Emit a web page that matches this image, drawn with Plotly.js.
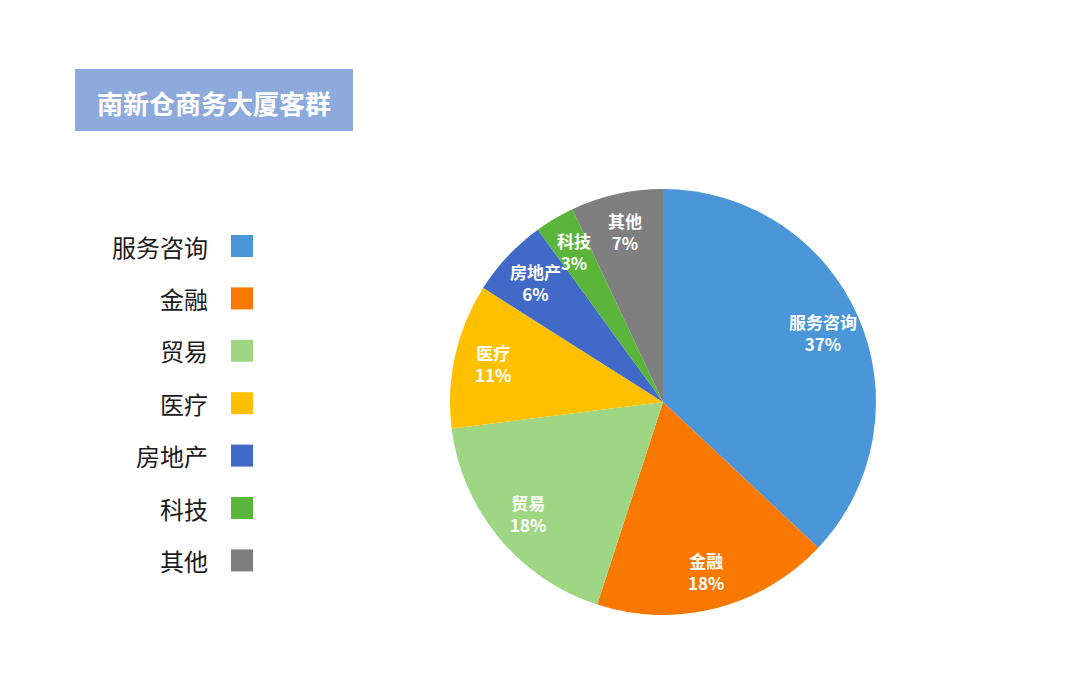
<!DOCTYPE html>
<html>
<head>
<meta charset="utf-8">
<script src="https://cdn.plot.ly/plotly-3.0.1.min.js"></script>
<style>
  html, body { margin: 0; padding: 0; background: #fff; }
  #chart { width: 1080px; height: 684px; }
</style>
</head>
<body>
<div id="chart"></div>
<script>
var categories = ['服务咨询', '金融', '贸易', '医疗', '房地产', '科技', '其他'];
var shares = [37, 18, 18, 11, 6, 3, 7];
var sliceColors = ['#4A96D9', '#F87800', '#9ED684', '#FFC000', '#4169C8', '#5BB53B', '#7F7F7F'];
var chartTitle = '南新仓商务大厦客群';

var W = 1080, H = 684;
var cjk = '"Noto Sans CJK SC", "Microsoft YaHei", sans-serif';

// px -> paper helpers
function px(x) { return x / W; }
function py(y) { return 1 - y / H; }

// pie box (px)
var pieL = 450, pieR = 876, pieT = 189, pieB = 615;
var cx = (pieL + pieR) / 2, cy0 = (pieT + pieB) / 2, rad = (pieR - pieL) / 2;

var data = [{
    type: 'pie',
    labels: categories,
    values: shares,
    sort: false,
    direction: 'clockwise',
    rotation: 0,
    marker: { colors: sliceColors, line: { width: 0 } },
    textinfo: 'none',
    hoverinfo: 'label+percent',
    showlegend: false,
    domain: { x: [px(pieL), px(pieR)], y: [py(pieB), py(pieT)] }
}];

var annotations = [{
    xref: 'paper', yref: 'paper',
    x: px(214), y: py(102),
    xanchor: 'center', yanchor: 'middle',
    text: chartTitle,
    showarrow: false,
    font: { family: cjk, size: 26, color: '#ffffff', weight: 'bold' }
}];

var shapes = [{
    type: 'rect', xref: 'paper', yref: 'paper',
    x0: px(75), x1: px(353), y0: py(131), y1: py(69),
    fillcolor: '#8EA9DB', line: { width: 0 }, layer: 'below'
}];

// slice labels: name + percent, placed out along each slice's mid angle
var total = shares.reduce(function(a, b) { return a + b; }, 0);
var run = 0;
shares.forEach(function(v, i) {
    var mid = (run + v / 2) / total * 2 * Math.PI;
    run += v;
    var r = rad * 0.82;
    annotations.push({
        xref: 'paper', yref: 'paper',
        x: px(cx + r * Math.sin(mid)), y: py(cy0 - r * Math.cos(mid)),
        xanchor: 'center', yanchor: 'middle',
        text: categories[i] + '<br>' + Math.round(v / total * 100) + '%',
        showarrow: false,
        font: { family: cjk, size: 17, color: '#ffffff', weight: 'bold' }
    });
});

// left-side legend: label right-aligned, colour square to its right
categories.forEach(function(name, i) {
    var cy = 246 + i * 52.4;
    annotations.push({
        xref: 'paper', yref: 'paper',
        x: px(210), y: py(cy),
        xanchor: 'right', yanchor: 'middle',
        text: name,
        showarrow: false,
        font: { family: cjk, size: 24, color: '#1a1a1a' }
    });
    shapes.push({
        type: 'rect', xref: 'paper', yref: 'paper',
        x0: px(231), x1: px(253), y0: py(cy + 11), y1: py(cy - 11),
        fillcolor: sliceColors[i], line: { width: 0 }
    });
});

var layout = {
    width: W,
    height: H,
    margin: { t: 0, b: 0, l: 0, r: 0 },
    paper_bgcolor: '#ffffff',
    plot_bgcolor: '#ffffff',
    annotations: annotations,
    shapes: shapes,
    showlegend: false
};

Plotly.newPlot('chart', data, layout, { displayModeBar: false, staticPlot: true });
</script>
</body>
</html>
